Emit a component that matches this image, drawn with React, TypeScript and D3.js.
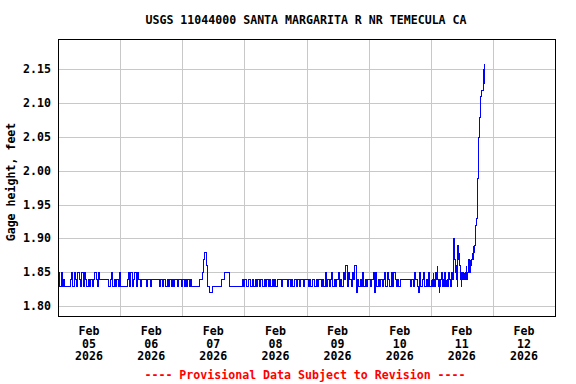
import React from "react";
import * as d3 from "d3";

const title = "USGS 11044000 SANTA MARGARITA R NR TEMECULA CA";
const yLabel = "Gage height, feet";
const footer = "---- Provisional Data Subject to Revision ----";
const dayLabels = ["05", "06", "07", "08", "09", "10", "11", "12"];
const yTicks = [1.8, 1.85, 1.9, 1.95, 2.0, 2.05, 2.1, 2.15];

// gage height in hundredths of a foot (30-min spacing)
const feb05 = [
  185, 183, 185, 183, 184, 183, 183, 183, 183, 184, 185, 183, 185, 184, 183, 185,
  184, 183, 185, 183, 185, 184, 183, 184, 183, 184, 183, 184, 185, 184, 183, 185,
  184, 184, 184, 184, 184, 184, 184, 183, 184, 185, 183, 184, 183, 184, 183, 185,
];
const feb06 = [
  183, 183, 183, 183, 183, 184, 185, 183, 185, 183, 184, 185, 183, 185, 184, 183,
  184, 184, 184, 184, 183, 184, 184, 183, 184, 184, 184, 184, 184, 184, 183, 184,
  183, 184, 184, 183, 184, 183, 184, 183, 184, 183, 184, 184, 183, 184, 184, 183,
];
const feb07 = [
  184, 183, 184, 183, 184, 183, 184, 183, 183, 183, 183, 183, 183, 184, 184, 185,
  187, 188, 186, 183, 183, 182, 182, 183, 183, 183, 183, 183, 183, 183, 184, 184,
  185, 185, 185, 185, 183, 183, 183, 183, 183, 183, 183, 183, 183, 183, 184, 183,
];
const feb08 = [
  184, 183, 183, 184, 183, 183, 184, 183, 184, 183, 184, 183, 184, 184, 183, 184,
  183, 184, 183, 184, 183, 184, 183, 184, 183, 184, 184, 184, 183, 184, 184, 184,
  184, 183, 184, 183, 184, 183, 184, 184, 183, 184, 183, 184, 184, 183, 184, 184,
];
const feb09 = [
  184, 183, 184, 183, 184, 184, 183, 184, 183, 184, 184, 183, 184, 183, 185, 183,
  184, 183, 184, 185, 183, 184, 183, 184, 185, 183, 184, 183, 185, 184, 186, 183,
  185, 184, 183, 185, 184, 186, 182, 184, 183, 184, 183, 185, 183, 184, 183, 184,
];
const feb10 = [
  184, 183, 184, 185, 182, 185, 183, 184, 183, 184, 183, 184, 185, 183, 185, 184,
  183, 185, 183, 185, 184, 183, 184, 183, 184, 184, 184, 184, 184, 184, 184, 184,
  183, 184, 183, 185, 184, 183, 182, 185, 183, 184, 185, 183, 184, 183, 185, 183,
];
// 15-min spacing for the last day, where the river starts rising
const feb11 = [
  184, 183, 184, 185, 183, 184, 183, 185, 184, 186, 184, 183, 182, 184, 183, 184,
  185, 183, 184, 183, 184, 185, 183, 184, 183, 184, 183, 185, 184, 184, 183, 184,
  185, 184, 186, 190, 187, 185, 186, 184, 183, 189, 187, 188, 186, 184, 183, 185,
  184, 185, 184, 185, 184, 185, 186, 184, 185, 186, 187, 185, 187, 186, 187, 188,
  187, 189, 188, 189, 191, 192, 193, 196, 199, 205, 207, 208, 211, 211, 212, 212,
  214, 215, 216, 213,
];

const runs = [
  { day: 5, step: 30, values: feb05 },
  { day: 6, step: 30, values: feb06 },
  { day: 7, step: 30, values: feb07 },
  { day: 8, step: 30, values: feb08 },
  { day: 9, step: 30, values: feb09 },
  { day: 10, step: 30, values: feb10 },
  { day: 11, step: 15, values: feb11 },
];

type Pt = { t: number; v: number };

const W = 576;
const H = 384;
const left = 58;
const right = 555;
const top = 39;
const bottom = 316;
const font = "'DejaVu Sans Mono', monospace";

export default function App() {
  const points: Pt[] = [];
  runs.forEach((r) => {
    const start = Date.UTC(2026, 1, r.day);
    r.values.forEach((v, i) => points.push({ t: start + i * r.step * 60000, v: v / 100 }));
  });

  const x = d3
    .scaleUtc()
    .domain([Date.UTC(2026, 1, 5), Date.UTC(2026, 1, 13)])
    .range([left, right]);
  const y = d3.scaleLinear().domain([1.8, 2.15]).range([306, 69.3]);

  const line = d3
    .line<Pt>()
    .curve(d3.curveStepAfter)
    .x((d) => Math.round(x(d.t)) + 0.5)
    .y((d) => Math.round(y(d.v)) + 0.5);

  const snap = (v: number) => Math.round(v) + 0.5;
  const midnights = d3.range(6, 13).map((d) => Date.UTC(2026, 1, d));

  return (
    <svg
      width={W}
      height={H}
      style={{ position: "absolute", left: 0, top: 0, background: "#fff" }}
      fontFamily={font}
      fontWeight="bold"
    >
      <rect x={0} y={0} width={W} height={H} fill="#fff" />
      <text x={306} y={24} textAnchor="middle" fontSize={11.6} fill="#000">
        {title}
      </text>

      <g shapeRendering="crispEdges" stroke="#c8c8c8" strokeWidth={1}>
        {yTicks.map((t) => (
          <line key={t} x1={left} x2={right} y1={snap(y(t))} y2={snap(y(t))} />
        ))}
        {midnights.map((t) => (
          <line key={t} x1={snap(x(t))} x2={snap(x(t))} y1={top} y2={bottom} />
        ))}
      </g>

      <path
        d={line(points) ?? ""}
        fill="none"
        stroke="#0000ff"
        strokeWidth={1}
        shapeRendering="crispEdges"
      />

      <rect
        x={left + 0.5}
        y={top + 0.5}
        width={right - left}
        height={bottom - top}
        fill="none"
        stroke="#000"
        strokeWidth={1}
        shapeRendering="crispEdges"
      />

      {yTicks.map((t) => (
        <text key={t} x={51} y={y(t) + 4} textAnchor="end" fontSize={11.6} fill="#000">
          {d3.format(".2f")(t)}
        </text>
      ))}

      <text
        transform={`translate(15,182) rotate(-90)`}
        textAnchor="middle"
        fontSize={11.6}
        fill="#000"
      >
        {yLabel}
      </text>

      {dayLabels.map((d, i) => {
        const cx = x(Date.UTC(2026, 1, 5 + i, 12));
        return (
          <text key={d} x={cx} textAnchor="middle" fontSize={11.6} fill="#000">
            <tspan x={cx} y={334.5}>Feb</tspan>
            <tspan x={cx} y={347.5}>{d}</tspan>
            <tspan x={cx} y={360}>2026</tspan>
          </text>
        );
      })}

      <text x={305} y={379} textAnchor="middle" fontSize={11.6} fill="#ff0000">
        {footer}
      </text>
    </svg>
  );
}
